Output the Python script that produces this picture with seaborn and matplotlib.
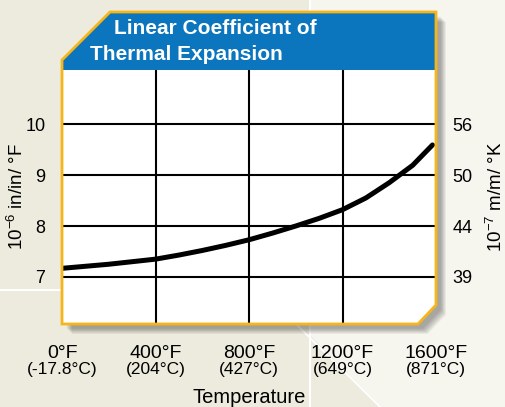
import numpy as np
import pandas as pd
import matplotlib
matplotlib.use("Agg")
import matplotlib.pyplot as plt
from matplotlib.patches import Polygon
import seaborn as sns

# donnees
temp_f = [0, 100, 200, 300, 400, 500, 600, 700, 800, 900, 1000,
          1100, 1200, 1300, 1400, 1500, 1585]
coef = [7.17, 7.21, 7.25, 7.30, 7.35, 7.43, 7.52, 7.62, 7.73, 7.86, 8.00,
        8.15, 8.32, 8.55, 8.85, 9.19, 9.59]

x_ticks = [0, 400, 800, 1200, 1600]
x_labels_f = ["0°F", "400°F", "800°F", "1200°F", "1600°F"]
x_labels_c = ["(-17.8°C)", "(204°C)", "(427°C)", "(649°C)", "(871°C)"]
y_ticks = [7, 8, 9, 10]
y_right_labels = ["39", "44", "50", "56"]

df = pd.DataFrame({"temp": temp_f, "coef": coef})

sns.set_style("white")
plt.rcParams["font.family"] = ["Liberation Sans", "DejaVu Sans"]
plt.rcParams["mathtext.fontset"] = "custom"
plt.rcParams["mathtext.rm"] = "Liberation Sans"
plt.rcParams["text.color"] = "black"
plt.rcParams["axes.labelcolor"] = "black"
plt.rcParams["xtick.color"] = "black"
plt.rcParams["ytick.color"] = "black"

W, H = 505, 407
fig = plt.figure(figsize=(W / 100, H / 100), dpi=100)
fig.patch.set_facecolor("#ECEBDD")

# fond + cadre (coordonnees en pixels)
bg = fig.add_axes([0, 0, 1, 1], zorder=0)
bg.set_xlim(0, W)
bg.set_ylim(H, 0)
bg.axis("off")
bg.add_patch(Polygon([(310, 0), (W, 0), (W, H), (380, H), (310, 335)],
                     closed=True, fc="#F6F5EE", ec="none", zorder=0))
bg.plot([310, 310], [0, H], color="white", lw=1.5, zorder=0.5)
bg.plot([297, 380], [325, H], color="white", lw=1.2, zorder=0.5)
bg.plot([0, 62], [290, 290], color="white", lw=1.5, zorder=0.5)

box = [(62, 60), (110, 12), (436, 12), (436, 305), (418, 324), (62, 324)]
for k in range(10, 0, -1):
    shadow = [(px + 4 + k * 0.6, py + 4 + k * 0.6) for px, py in box]
    bg.add_patch(Polygon(shadow, closed=True, fc="#000000", ec="none",
                         alpha=0.035, zorder=1))
bg.add_patch(Polygon(box, closed=True, fc="white", ec="none", zorder=2))
bg.add_patch(Polygon([(62, 60), (110, 12), (436, 12), (436, 70), (62, 70)],
                     closed=True, fc="#0B76BE", ec="none", zorder=3))
bg.text(114, 28, "Linear Coefficient of", color="white", fontsize=15,
        fontweight="bold", va="center", ha="left", zorder=4)
bg.text(90, 54, "Thermal Expansion", color="white", fontsize=15,
        fontweight="bold", va="center", ha="left", zorder=4)

# graphique principal
ax = fig.add_axes([62 / W, (H - 324) / H, 374 / W, 254 / H], zorder=2)
ax.patch.set_alpha(0)
for xv in x_ticks[1:-1]:
    ax.axvline(xv, color="black", linewidth=1.5, zorder=1)
for yv in y_ticks:
    ax.axhline(yv, color="black", linewidth=1.5, zorder=1)
sns.lineplot(data=df, x="temp", y="coef", color="black", linewidth=3.6,
             ax=ax, zorder=3, solid_joinstyle="round")
ax.set_xlim(0, 1600)
ax.set_ylim(6.078, 11.06)
ax.set_xticks(x_ticks)
ax.set_xticklabels(x_labels_f, fontsize=14)
ax.set_yticks(y_ticks)
ax.set_yticklabels([str(v) for v in y_ticks], fontsize=13)
ax.tick_params(length=0, pad=12)
ax.tick_params(axis="x", pad=15)
ax.grid(False)
for s in ax.spines.values():
    s.set_visible(False)
ax.set_xlabel("")
ax.set_ylabel("$10^{-6}$ in/in/ °F", fontsize=13.5)
ax.yaxis.set_label_coords(-0.094, 0.5)

trans = ax.get_xaxis_transform()
for xv, lab in zip(x_ticks, x_labels_c):
    ax.text(xv, -0.18, lab, transform=trans, ha="center", va="center",
            fontsize=12.5)
ax.text(0.5, -0.29, "Temperature", transform=ax.transAxes, ha="center",
        va="center", fontsize=14.5)

ax2 = ax.twinx()
ax2.set_ylim(ax.get_ylim())
ax2.set_yticks(y_ticks)
ax2.set_yticklabels(y_right_labels, fontsize=13)
ax2.tick_params(length=0, pad=12)
for s in ax2.spines.values():
    s.set_visible(False)
ax2.set_ylabel("$10^{-7}$ m/m/ °K", fontsize=13.5)
ax2.yaxis.set_label_coords(1.132, 0.5)

# bordure orange par-dessus
top = fig.add_axes([0, 0, 1, 1], zorder=5)
top.set_xlim(0, W)
top.set_ylim(H, 0)
top.axis("off")
top.patch.set_alpha(0)
top.add_patch(Polygon(box, closed=True, fc="none", ec="#F7B519", lw=2))

fig.savefig("out.png", dpi=100, facecolor=fig.get_facecolor())
